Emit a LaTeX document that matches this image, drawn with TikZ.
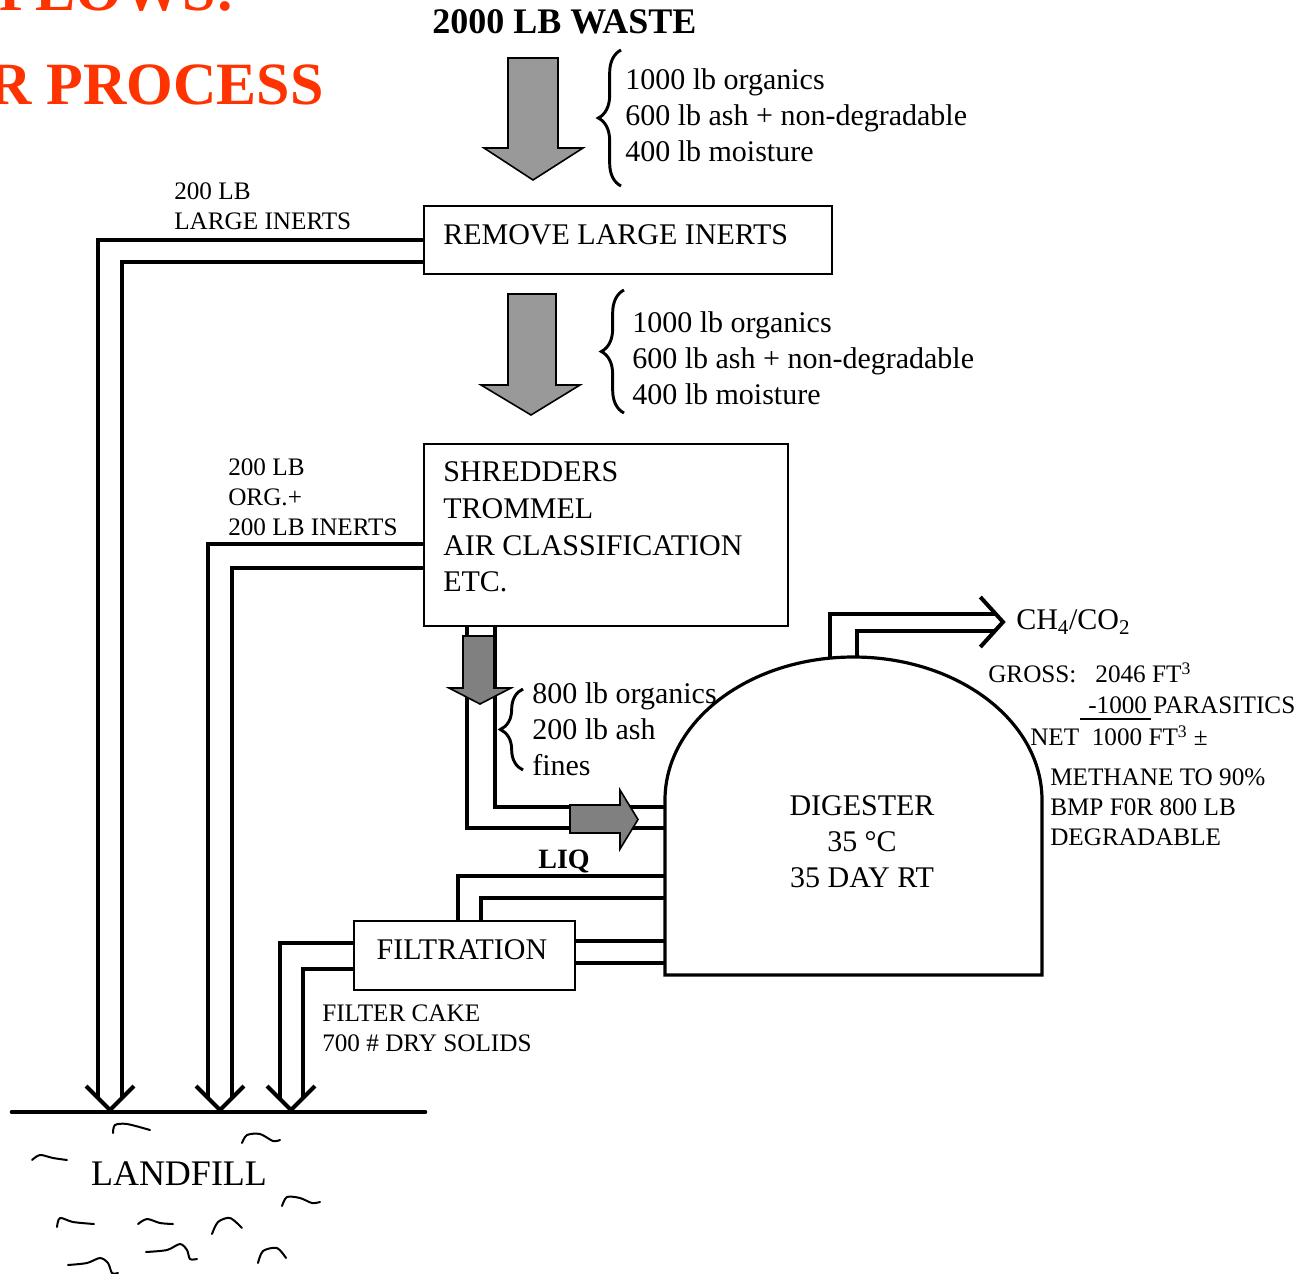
\documentclass[tikz,border=0pt]{standalone}
\usepackage{fontspec}
\setmainfont{Liberation Serif}
\usetikzlibrary{decorations.pathreplacing}
\definecolor{titlered}{RGB}{255,51,0}
\definecolor{arrgray}{RGB}{153,153,153}
\definecolor{arrdark}{RGB}{128,128,128}
\begin{document}
\begin{tikzpicture}[x=0.75pt,y=-0.75pt,
  pipe/.style={line width=3pt},
  boxnode/.style={draw, line width=1.5pt, inner sep=0pt},
  bigtxt/.style={font=\fontsize{22.5}{27}\selectfont, inner sep=0pt, align=left},
  smalltxt/.style={font=\fontsize{18.9}{22.5}\selectfont, inner sep=0pt, align=left},
  flowarrow/.style={draw, line width=1.2pt, fill=arrgray},
  darkarrow/.style={draw, line width=1.2pt, fill=arrdark},
  bracestyle/.style={decorate, decoration={brace, amplitude=17pt}, line width=2.2pt},
  vtip/.style={line width=3pt, line join=miter},
  scribble/.style={line width=1.5pt, line cap=round, line join=round},
  titletxt/.style={font=\fontsize{45}{54}\selectfont\bfseries, text=titlered, inner sep=0pt}]
\useasboundingbox (0,0) rectangle (1314,1274);

% title (cut by the frame, as in the reference)
\node[titletxt, anchor=base east] (title1) at (236,10) {FLOWS:};
\node[titletxt, anchor=base east] (title2) at (324,104) {R PROCESS};
\node[font=\fontsize{27}{32}\selectfont\bfseries, inner sep=0pt, anchor=base west] (waste) at (432,33) {2000 LB WASTE};

% boxes
\node[boxnode, minimum width=306pt, minimum height=51pt] (box1) at (628,240) {};
\node[bigtxt, anchor=west] (box1txt) at (443,235) {REMOVE LARGE INERTS};
\node[boxnode, minimum width=273pt, minimum height=136.5pt] (box2) at (606,535) {};
\node[bigtxt, anchor=west, font=\fontsize{22.5}{27.5}\selectfont] (box2txt) at (443,527) {SHREDDERS\\TROMMEL\\AIR CLASSIFICATION\\ETC.};
\node[boxnode, minimum width=165.75pt, minimum height=51.75pt] (filt) at (464.5,955.5) {};
\node[bigtxt] (filttxt) at (462,950) {FILTRATION};

% digester
\coordinate (dgA) at (665,828);
\coordinate (dgB) at (665,807);
\coordinate (dgC) at (665,876);
\coordinate (dgD) at (665,898);
\coordinate (dgE) at (665,941);
\coordinate (dgF) at (665,963);
\coordinate (dgG) at (830,658);
\coordinate (dgH) at (857,657);
\draw[line width=2.4pt] (665,975) -- (665,800) arc[start angle=180, end angle=0, x radius=141.375pt, y radius=107.25pt] -- (1042,975) -- cycle;
\node[bigtxt, align=center] (dgtxt) at (862,842) {DIGESTER\\35 °C\\35 DAY RT};

% flow arrows
\draw[flowarrow] (508,58) -- (558,58) -- (558,148) -- (583,148) -- (533,180) -- (484,148) -- (508,148) -- cycle;
\draw[flowarrow] (508,294) -- (556,294) -- (556,385) -- (580,385) -- (531,415) -- (481,385) -- (508,385) -- cycle;

% braces and compositions
\draw[bracestyle] (621,186) -- (621,50);
\node[bigtxt, anchor=west] (comp1) at (625,115) {1000 lb organics\\600 lb ash + non-degradable\\400 lb moisture};
\draw[bracestyle] (624,413) -- (624,290);
\node[bigtxt, anchor=west] (comp2) at (632,358) {1000 lb organics\\600 lb ash + non-degradable\\400 lb moisture};

% landfill tips
\coordinate (lfA) at (98,1098);
\coordinate (lfB) at (122,1098);
\coordinate (lfC) at (208,1098);
\coordinate (lfD) at (232,1098);
\coordinate (lfE) at (280,1098);
\coordinate (lfF) at (303,1098);
\coordinate (tipA) at (110,1110);
\coordinate (tipB) at (220,1110);
\coordinate (tipC) at (291,1110);

% pipes to landfill
\draw[pipe] (box1.west) -| (lfA);
\draw[pipe] ([yshift=-16.5pt]box1.west) -| (lfB);
\draw[pipe] ([yshift=-6.75pt]box2.west) -| (lfC);
\draw[pipe] ([yshift=-24.75pt]box2.west) -| (lfD);
\draw[pipe] ([yshift=9.375pt]filt.west) -| (lfE);
\draw[pipe] ([yshift=-10.125pt]filt.west) -| (lfF);
\foreach \t in {tipA,tipB,tipC}{
  \draw[vtip] ([xshift=-18pt,yshift=18pt]\t) -- (\t) -- ([xshift=18pt,yshift=18pt]\t);
}
\draw[line width=3.5pt, line cap=round] (12,1112) -- (425,1112);

\node[smalltxt, anchor=west] (inerts1) at (174,206.5) {200 LB\\LARGE INERTS};
\node[smalltxt, anchor=west] (inerts2) at (228,497) {200 LB\\ORG.+\\200 LB INERTS};

% shredder output to digester
\draw[pipe] ([xshift=33pt]box2.south west) |- (dgA);
\draw[pipe] ([xshift=54pt]box2.south west) |- (dgB);
\draw[darkarrow] (463,636) -- (494,636) -- (494,688) -- (511,688) -- (480,704) -- (449,688) -- (463,688) -- cycle;
\draw[darkarrow] (570,805) -- (620,805) -- (620,790) -- (638,819.5) -- (620,849) -- (620,833) -- (570,833) -- cycle;
\draw[bracestyle] (523,770) -- (523,689);
\node[bigtxt, anchor=west] (comp3) at (532,729) {800 lb organics\\200 lb ash\\fines};

% digester to filtration
\draw[pipe] (dgC) -| ([xshift=-4.875pt]filt.north);
\draw[pipe] (dgD) -| ([xshift=12.375pt]filt.north);
\draw[pipe] ([yshift=10.875pt]filt.east) -- (dgE);
\draw[pipe] ([yshift=-5.625pt]filt.east) -- (dgF);
\node[font=\fontsize{21}{25}\selectfont\bfseries, inner sep=0pt] (liq) at (564,861) {LIQ};
\node[smalltxt, anchor=west] (cake) at (322,1028.5) {FILTER CAKE\\700 \# DRY SOLIDS};

% gas
\coordinate (gasA) at (995,614);
\coordinate (gasB) at (995,631);
\coordinate (gasTip) at (1003,622);
\draw[pipe] (dgG) |- (gasA);
\draw[pipe] (dgH) |- (gasB);
\draw[vtip] ([xshift=-17pt,yshift=18.75pt]gasTip) -- (gasTip) -- ([xshift=-17pt,yshift=-18.75pt]gasTip);
\node[bigtxt, anchor=west] (gas) at (1016,622) {CH\textsubscript{4}/CO\textsubscript{2}};
\node[smalltxt, anchor=west] (gross) at (988,673) {GROSS:\ \ \ 2046 FT\textsuperscript{3}};
\node[smalltxt, anchor=west] (para) at (1088,705) {-1000 PARASITICS};
\draw[line width=1.5pt] (1080,719) -- (1151,719);
\node[smalltxt, anchor=west] (net) at (1030,736) {NET\ \ 1000 FT\textsuperscript{3} ±};
\node[smalltxt, anchor=west] (bmp) at (1050,807) {METHANE TO 90\%\\BMP F0R 800 LB\\DEGRADABLE};

% landfill
\node[font=\fontsize{27}{32}\selectfont, inner sep=0pt] (landfill) at (179,1174) {LANDFILL};
\draw[scribble] plot[smooth] coordinates {(113,1133) (115,1125) (127,1124) (150,1130)};
\draw[scribble] plot[smooth] coordinates {(242,1143) (247,1135) (260,1134) (273,1141) (280,1140)};
\draw[scribble] plot[smooth] coordinates {(32,1160) (40,1155) (53,1158) (67,1160)};
\draw[scribble] plot[smooth] coordinates {(282,1206) (287,1197) (300,1198) (312,1203) (320,1202)};
\draw[scribble] plot[smooth] coordinates {(57,1227) (60,1218) (73,1222) (94,1224)};
\draw[scribble] plot[smooth] coordinates {(138,1224) (147,1219) (160,1223) (173,1224)};
\draw[scribble] plot[smooth] coordinates {(212,1234) (218,1222) (230,1218) (242,1228)};
\draw[scribble] plot[smooth] coordinates {(146,1252) (167,1250) (180,1244) (187,1250) (190,1259) (197,1259)};
\draw[scribble] plot[smooth] coordinates {(258,1263) (263,1251) (277,1248) (286,1258)};
\draw[scribble] plot[smooth] coordinates {(68,1265) (87,1263) (100,1258) (108,1263) (112,1273) (118,1273)};
\end{tikzpicture}
\end{document}
